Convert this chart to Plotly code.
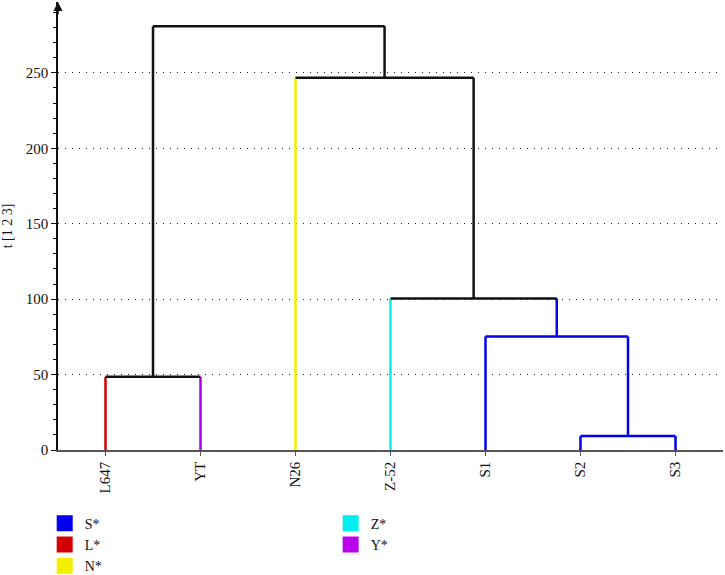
import plotly.graph_objects as go

# ---- data ----
leaves = ["L647", "YT", "N26", "Z-52", "S1", "S2", "S3"]
leaf_colors = ["#cc0000", "#aa00ee", "#f0f000", "#00eeee", "#0000ee", "#0000ee", "#0000ee"]
# merges: nodes 0..6 are leaves, 7.. are merged clusters in order
merge_left = [5, 0, 4, 3, 2, 8]
merge_right = [6, 1, 7, 9, 10, 11]
merge_height = [9.3, 48.5, 75.3, 100.5, 246.8, 281.0]
merge_color = ["#0000ee", "#111111", "#0000ee", "#111111", "#111111", "#111111"]

legend1_names = ["S*", "L*", "N*"]
legend1_colors = ["#0000ee", "#d40000", "#f0f000"]
legend2_names = ["Z*", "Y*"]
legend2_colors = ["#00eeee", "#bb00ee"]

y_ticks = [0, 50, 100, 150, 200, 250]

# ---- build dendrogram segments ----
xpos = {i: i + 0.5 for i in range(len(leaves))}
ypos = {i: 0.0 for i in range(len(leaves))}
col = {i: leaf_colors[i] for i in range(len(leaves))}

fig = go.Figure()
LW = 2.5
for k, (a, b, h, c) in enumerate(zip(merge_left, merge_right, merge_height, merge_color)):
    node = len(leaves) + k
    for child in (a, b):
        fig.add_trace(go.Scatter(x=[xpos[child], xpos[child]], y=[ypos[child], h],
                                 mode="lines", line=dict(color=col[child], width=LW),
                                 showlegend=False, hoverinfo="skip"))
    fig.add_trace(go.Scatter(x=[xpos[a], xpos[b]], y=[h, h], mode="lines",
                             line=dict(color=c, width=LW), showlegend=False, hoverinfo="skip"))
    xpos[node] = (xpos[a] + xpos[b]) / 2
    ypos[node] = h
    col[node] = c

for n, c in zip(legend1_names, legend1_colors):
    fig.add_trace(go.Scatter(x=[None], y=[None], mode="markers", name=n,
                             marker=dict(symbol="square", size=16, color=c), legend="legend"))
for n, c in zip(legend2_names, legend2_colors):
    fig.add_trace(go.Scatter(x=[None], y=[None], mode="markers", name=n,
                             marker=dict(symbol="square", size=16, color=c), legend="legend2"))

font = dict(family="Liberation Serif, Times New Roman, serif", size=15, color="#111")
lfont = dict(family="Liberation Serif, Times New Roman, serif", size=14, color="#111")

fig.update_layout(
    width=725, height=575,
    margin=dict(l=58, r=2, t=2, b=125),
    plot_bgcolor="white", paper_bgcolor="white",
    font=font,
    xaxis=dict(range=[0, 7], tickmode="array", tickvals=[i + 0.5 for i in range(len(leaves))],
               ticktext=leaves, tickangle=-90, showgrid=False, zeroline=False,
               showline=True, linecolor="#555", linewidth=1.5, ticks="outside", ticklen=4,
               tickcolor="#555", tickfont=font),
    yaxis=dict(range=[0, 297], tickmode="array", tickvals=y_ticks, showgrid=True,
               gridcolor="#222", griddash="1px,6px", gridwidth=1, zeroline=False,
               showline=True, linecolor="#111", linewidth=1.5, ticks="outside", ticklen=5,
               tickcolor="#111", tickfont=font,
               minor=dict(dtick=10, ticks="outside", ticklen=3, tickcolor="#111", showgrid=False),
               title=dict(text="t [1 2 3]", font=dict(family=font["family"], size=14, color="#111"), standoff=10)),
    legend=dict(x=-0.02, y=0.117, yref="container", xanchor="left", yanchor="top", font=lfont,
                tracegroupgap=0, bgcolor="rgba(0,0,0,0)"),
    legend2=dict(x=0.41, y=0.117, yref="container", xanchor="left", yanchor="top", font=lfont,
                 tracegroupgap=0, bgcolor="rgba(0,0,0,0)"),
    annotations=[dict(x=0, y=1, xref="paper", yref="paper", showarrow=True, ax=0, ay=14,
                      arrowhead=2, arrowsize=1.2, arrowwidth=1.5, arrowcolor="#111", text="")],
)

fig.write_html("out.html")
